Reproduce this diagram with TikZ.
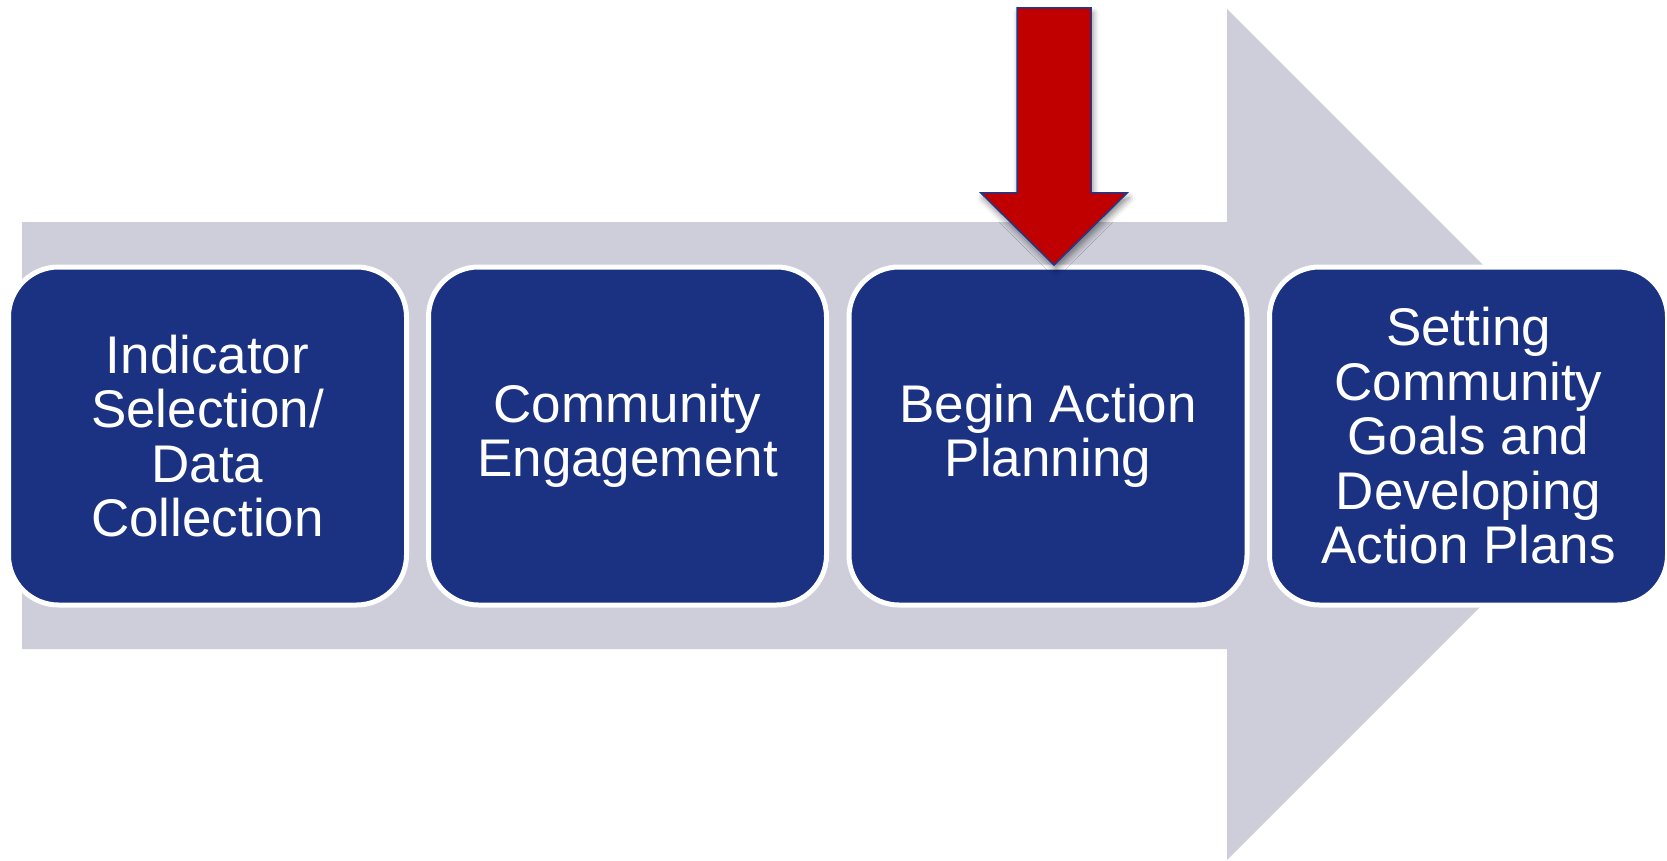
\documentclass[tikz,border=0pt]{standalone}
\usepackage{fontspec}
\setmainfont{Liberation Sans}
\usetikzlibrary{shadows.blur}
\definecolor{boxblue}{RGB}{27,50,130}
\definecolor{flowgray}{RGB}{205,206,217}
\definecolor{redarrow}{RGB}{192,0,0}
\definecolor{edgeblue}{RGB}{31,56,138}
\tikzset{
  stepbox/.style={rectangle, rounded corners=50pt, fill=boxblue, draw=white,
    line width=5pt, minimum width=398pt, minimum height=338pt, text=white,
    font=\fontsize{53}{54.5}\selectfont, align=center, inner sep=0pt},
  flowarrow/.style={fill=flowgray},
  markarrow/.style={fill=redarrow, draw=edgeblue, line width=1.5pt, line join=miter,
    blur shadow={shadow xshift=2pt, shadow yshift=-5pt, shadow blur radius=6pt, shadow opacity=45}}
}
\begin{document}
\begin{tikzpicture}[x=1pt,y=-1pt]
\useasboundingbox (0,0) rectangle (1667,861);
% big gray process arrow
\path[flowarrow] (22,222) -- (1227,222) -- (1227,9) -- (1652.5,434.5) -- (1227,860) -- (1227,649) -- (22,649) -- cycle;
% step boxes
\node[stepbox] (b1) at (207.5,436) {Indicator\\Selection/\\Data\\Collection};
\node[stepbox] (b2) at (627.5,436) {Community\\Engagement};
\node[stepbox] (b3) at (1048,436) {Begin Action\\Planning};
\node[stepbox] (b4) at (1468.5,436) {Setting\\Community\\Goals and\\Developing\\Action Plans};
% red marker arrow
\path[markarrow] (1017,8) -- (1091,8) -- (1091,193) -- (1127,193) -- (1054,265) -- (981,193) -- (1017,193) -- cycle;
\end{tikzpicture}
\end{document}
